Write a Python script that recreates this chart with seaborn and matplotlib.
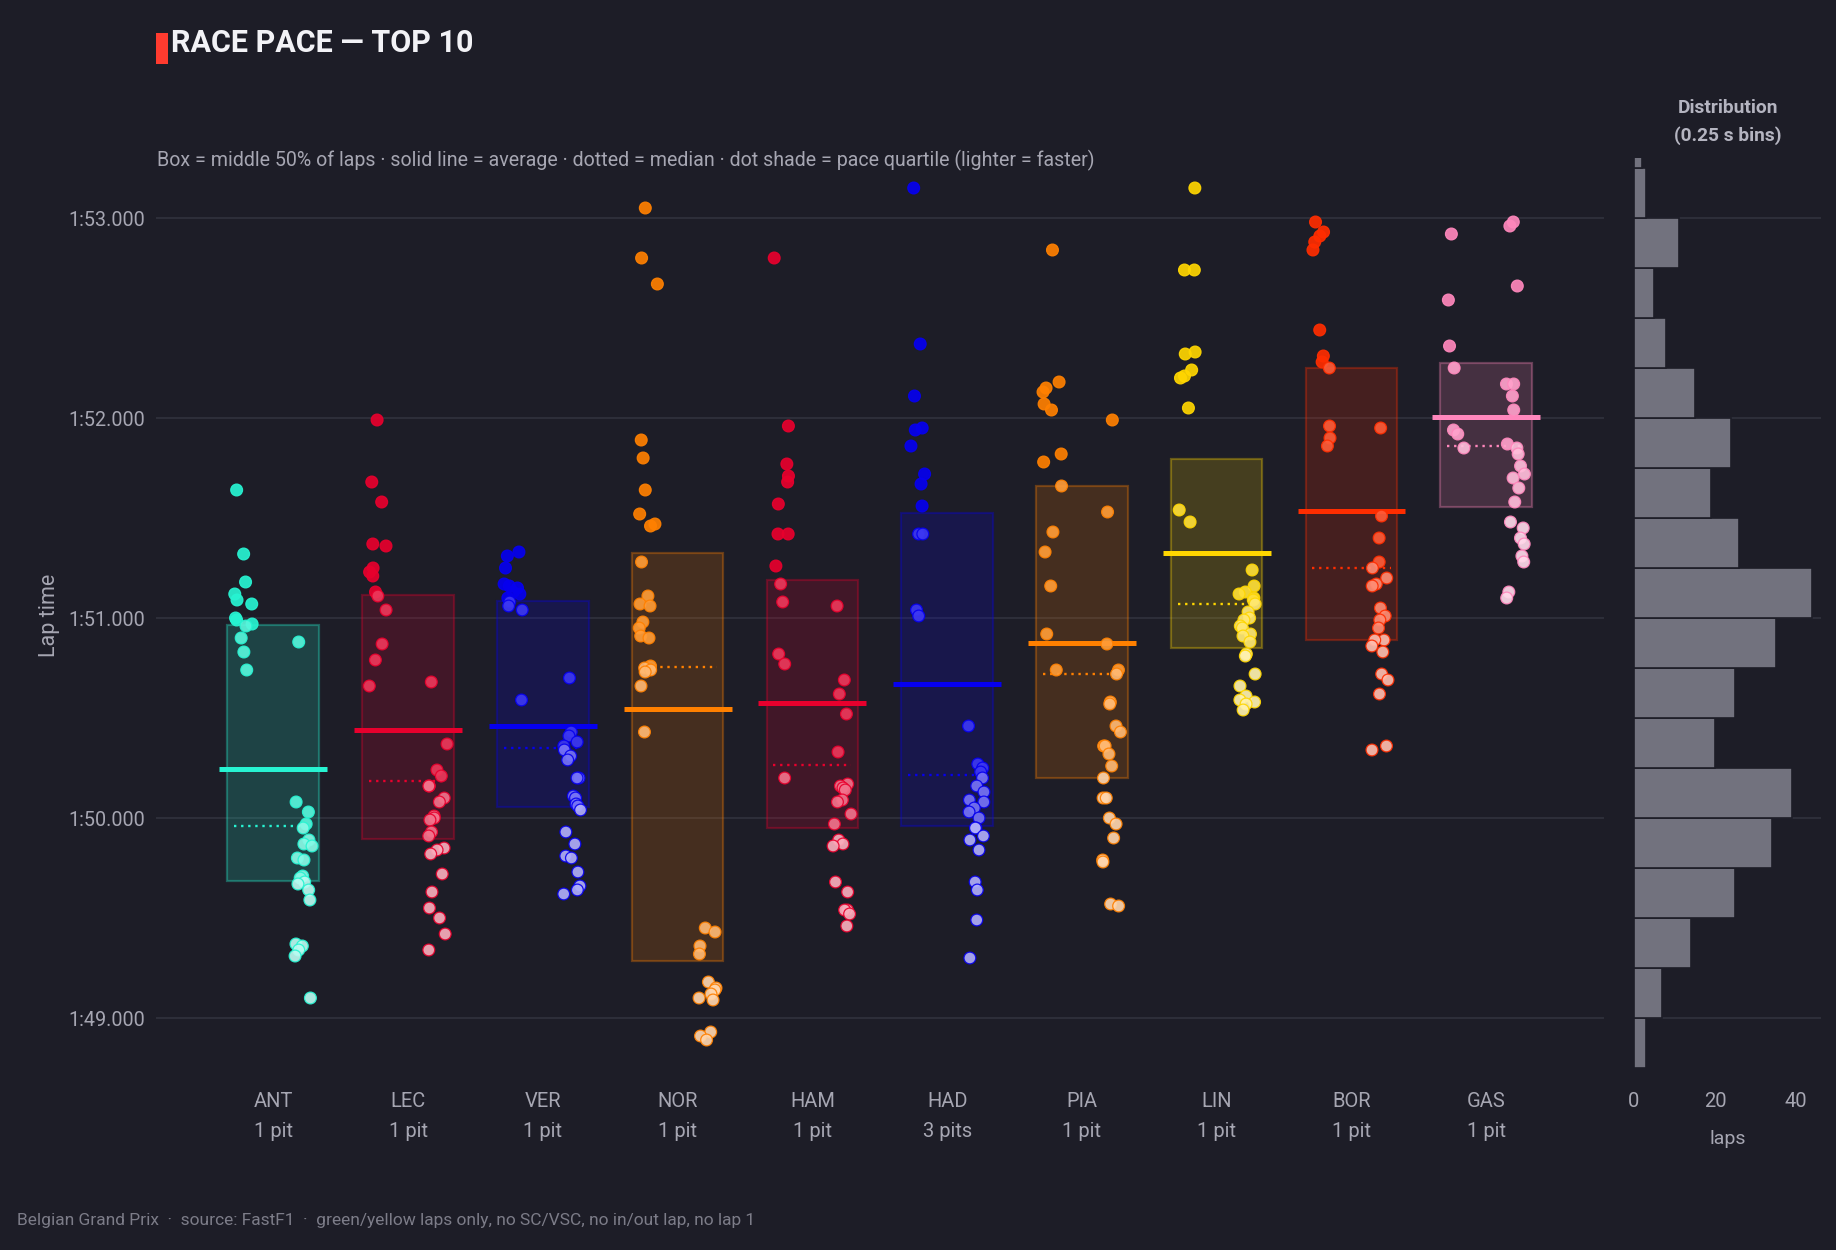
import numpy as np
import pandas as pd
import matplotlib.pyplot as plt
import matplotlib.colors as mcolors
from matplotlib.patches import Rectangle
import seaborn as sns


drivers = ['ANT', 'LEC', 'VER', 'NOR', 'HAM', 'HAD', 'PIA', 'LIN', 'BOR', 'GAS']
pit_stops = [1, 1, 1, 1, 1, 3, 1, 1, 1, 1]
team_colors = ['#27F4D2', '#E8002D', '#0600EF', '#FF8000', '#E8002D',
               '#0600EF', '#FF8000', '#FFD600', '#FF2D00', '#FF87BC']

# lap times in seconds (1:50.000 = 110.0), split by stint
ant_s1 = [111.64, 111.32, 111.18, 111.12, 111.09, 111.07, 111.00, 110.99, 110.97, 110.96, 110.90, 110.83, 110.74]
ant_s2 = [110.88, 110.08, 110.03, 109.97, 109.95, 109.89, 109.87, 109.86, 109.80, 109.79, 109.71, 109.70, 109.68,
          109.67, 109.64, 109.59, 109.37, 109.36, 109.34, 109.31, 109.10]
lec_s1 = [111.99, 111.68, 111.58, 111.37, 111.36, 111.25, 111.23, 111.21, 111.13, 111.11, 111.04, 110.87, 110.79, 110.66]
lec_s2 = [110.68, 110.37, 110.24, 110.21, 110.16, 110.16, 110.10, 110.08, 110.01, 110.00, 109.99, 109.93, 109.91,
          109.85, 109.84, 109.82, 109.72, 109.63, 109.55, 109.50, 109.42, 109.34]
ver_s1 = [111.33, 111.31, 111.25, 111.17, 111.16, 111.15, 111.13, 111.12, 111.10, 111.08, 111.06, 111.04, 110.59]
ver_s2 = [110.70, 110.43, 110.41, 110.38, 110.36, 110.34, 110.31, 110.29, 110.20, 110.20, 110.11, 110.10, 110.07,
          110.06, 110.04, 109.93, 109.87, 109.81, 109.80, 109.73, 109.66, 109.64, 109.62]
nor_s1 = [113.05, 112.80, 112.67, 111.89, 111.80, 111.64, 111.52, 111.47, 111.46, 111.28, 111.11, 111.07, 111.06,
          110.98, 110.95, 110.91, 110.90, 110.76, 110.75, 110.74, 110.73, 110.66, 110.43]
nor_s2 = [109.45, 109.43, 109.36, 109.32, 109.18, 109.15, 109.14, 109.12, 109.10, 109.09, 108.93, 108.91, 108.89]
ham_s1 = [112.80, 111.96, 111.77, 111.71, 111.68, 111.57, 111.42, 111.42, 111.26, 111.17, 111.08, 110.82, 110.77, 110.20]
ham_s2 = [111.06, 110.69, 110.62, 110.52, 110.33, 110.17, 110.16, 110.15, 110.14, 110.09, 110.08, 110.02, 109.97,
          109.89, 109.87, 109.86, 109.68, 109.63, 109.54, 109.54, 109.52, 109.46]
had_s1 = [113.15, 112.37, 112.11, 111.95, 111.94, 111.86, 111.72, 111.67, 111.56, 111.42, 111.42, 111.04, 111.01]
had_s2 = [110.46, 110.27, 110.25, 110.23, 110.20, 110.16, 110.13, 110.09, 110.08, 110.05, 110.03, 110.00, 109.95,
          109.95, 109.91, 109.89, 109.84, 109.68, 109.64, 109.49, 109.30]
pia_s1 = [112.84, 112.18, 112.15, 112.13, 112.07, 112.04, 111.82, 111.78, 111.66, 111.43, 111.33, 111.16, 110.92, 110.74]
pia_s2 = [111.99, 111.53, 110.87, 110.74, 110.72, 110.58, 110.57, 110.46, 110.43, 110.36, 110.36, 110.32, 110.26,
          110.20, 110.10, 110.10, 110.00, 109.97, 109.90, 109.79, 109.78, 109.57, 109.56]
lin_s1 = [113.15, 112.74, 112.74, 112.33, 112.32, 112.24, 112.21, 112.20, 112.05, 111.54, 111.48]
lin_s2 = [111.24, 111.16, 111.13, 111.12, 111.10, 111.09, 111.07, 111.03, 111.00, 110.99, 110.96, 110.95, 110.92,
          110.91, 110.88, 110.82, 110.81, 110.72, 110.66, 110.61, 110.59, 110.58, 110.57, 110.54]
bor_s1 = [112.98, 112.93, 112.91, 112.88, 112.84, 112.44, 112.31, 112.28, 112.25, 111.96, 111.90, 111.86]
bor_s2 = [111.95, 111.51, 111.40, 111.28, 111.25, 111.20, 111.17, 111.16, 111.05, 111.01, 110.99, 110.95, 110.89,
          110.89, 110.86, 110.83, 110.72, 110.69, 110.62, 110.36, 110.34]
# the two slowest GAS laps sit above the visible range (they only show in the histogram)
gas_s1 = [113.46, 113.38, 112.92, 112.59, 112.36, 112.25, 111.94, 111.92, 111.85]
gas_s2 = [112.98, 112.96, 112.66, 112.17, 112.17, 112.11, 112.04, 111.87, 111.85, 111.82, 111.76, 111.72, 111.70,
          111.65, 111.58, 111.48, 111.45, 111.40, 111.37, 111.31, 111.28, 111.13, 111.10]

# all laps histogram, 0.25 s bins starting at 1:48.750
hist_start = 108.75
hist_counts = [3, 7, 14, 25, 34, 39, 20, 25, 35, 44, 26, 19, 24, 15, 8, 5, 11, 3, 2]

stints = {
    'ANT': (ant_s1, ant_s2), 'LEC': (lec_s1, lec_s2), 'VER': (ver_s1, ver_s2),
    'NOR': (nor_s1, nor_s2), 'HAM': (ham_s1, ham_s2), 'HAD': (had_s1, had_s2),
    'PIA': (pia_s1, pia_s2), 'LIN': (lin_s1, lin_s2), 'BOR': (bor_s1, bor_s2),
    'GAS': (gas_s1, gas_s2),
}

rows = []
for drv in drivers:
    for k, laps in enumerate(stints[drv]):
        for t in laps:
            rows.append({'driver': drv, 'stint': k, 'lap': t})
df = pd.DataFrame(rows)

stats = df.groupby('driver', sort=False)['lap'].agg(
    q1=lambda s: s.quantile(0.25), med='median',
    q3=lambda s: s.quantile(0.75), mean='mean')


def shade(hex_color, amount):
    rgb = np.array(mcolors.to_rgb(hex_color))
    return tuple(rgb + (1 - rgb) * amount)


shade_amounts = [0.0, 0.22, 0.45, 0.68]   # slowest quartile -> fastest quartile


def quartile_class(row):
    s = stats.loc[row['driver']]
    if row['lap'] > s['q3']:
        return 0
    if row['lap'] > s['med']:
        return 1
    if row['lap'] > s['q1']:
        return 2
    return 3


df['qcls'] = df.apply(quartile_class, axis=1)
df['key'] = df['driver'] + '_' + df['qcls'].astype(str)
code = {d: i for i, d in enumerate(drivers)}
rng = np.random.default_rng(11)
df['xpos'] = (df['driver'].map(code) + np.where(df['stint'] == 0, -0.22, 0.22)
              + rng.uniform(-0.07, 0.07, len(df)))

edges = hist_start + 0.25 * np.arange(len(hist_counts) + 1)
hist_df = pd.DataFrame({'mid': edges[:-1] + 0.125, 'count': hist_counts})


bg = '#1d1d27'
grid_c = '#2f303b'
text_c = '#a6a6b2'

sns.set_theme(style='dark')
plt.rcParams['font.family'] = ['Roboto', 'DejaVu Sans']

fig = plt.figure(figsize=(18.36, 12.5), dpi=100, facecolor=bg)
ax = fig.add_axes([0.085, 0.1456, 0.7887, 0.728])
axh = fig.add_axes([0.890, 0.1456, 0.1019, 0.728], sharey=ax)
for a in (ax, axh):
    a.set_facecolor(bg)
    for sp in a.spines.values():
        sp.set_visible(False)
    a.grid(axis='y', color=grid_c, linewidth=1.3)
    a.grid(axis='x', visible=False)
    a.set_axisbelow(True)

for i, drv in enumerate(drivers):
    base = team_colors[i]
    s = stats.loc[drv]
    ax.bar(i, s['q3'] - s['q1'], bottom=s['q1'], width=0.68,
           facecolor=mcolors.to_rgba(base, 0.18), edgecolor=mcolors.to_rgba(base, 0.32),
           linewidth=1.6, zorder=1)
    ax.hlines(s['mean'], i - 0.4, i + 0.4, color=base, linewidth=3.6, zorder=2)
    ax.hlines(s['med'], i - 0.29, i + 0.29, color=base, linewidth=1.7,
              linestyle=(0, (1, 2)), zorder=2)
    sub = df[df['driver'] == drv]
    pal = {f'{drv}_{k}': shade(base, a) for k, a in enumerate(shade_amounts)}
    sns.scatterplot(data=sub, x='xpos', y='lap', hue='key', palette=pal, legend=False,
                    s=72, alpha=0.92, edgecolor=base, linewidth=0.9, ax=ax, zorder=3)

ax.set_xlim(-0.87, 9.875)
ax.set_ylim(108.75, 113.3)
ax.set_yticks([109, 110, 111, 112, 113])
ax.set_yticklabels([f'{int(v // 60)}:{v % 60:06.3f}' for v in [109, 110, 111, 112, 113]])
ax.set_xticks(range(len(drivers)))
ax.set_xticklabels([f'{d}\n{p} pit' + ('s' if p > 1 else '') for d, p in zip(drivers, pit_stops)],
                   linespacing=1.75)
ax.tick_params(axis='x', length=0, pad=17, labelsize=14.5, colors=text_c)
ax.tick_params(axis='y', length=0, pad=8, labelsize=14.2, colors=text_c)
ax.set_xlabel('')
ax.set_ylabel('')

sns.histplot(data=hist_df, y='mid', weights='count', binwidth=0.25,
             binrange=(edges[0], edges[-1]), ax=axh, color='#72727e',
             edgecolor=bg, linewidth=1.2, alpha=1)
axh.set_xlim(0, 46.2)
axh.set_xticks([0, 20, 40])
axh.tick_params(axis='x', length=0, pad=17, labelsize=14.5, colors=text_c)
axh.tick_params(axis='y', length=0, labelleft=False)
axh.set_ylabel('')
axh.set_xlabel('laps', fontsize=14, color=text_c, labelpad=14)
axh.set_title('Distribution\n(0.25 s bins)', fontsize=13.8, fontweight='bold',
              color='#b4b4c0', pad=12, linespacing=1.65)

fig.text(50 / 1836, 0.508, 'Lap time', rotation=90, ha='center', va='center',
         fontsize=15.5, color=text_c)
fig.patches.append(Rectangle((0.085, 0.9488), 0.0065, 0.0248, transform=fig.transFigure,
                             facecolor='#ff3b2f', edgecolor='none'))
fig.text(0.0931, 0.966, 'RACE PACE — TOP 10', ha='left', va='center',
         fontsize=22, fontweight='bold', color='#f2f2f6')
fig.text(0.0855, 0.872,
         'Box = middle 50% of laps · solid line = average · dotted = median · '
         'dot shade = pace quartile (lighter = faster)',
         ha='left', va='center', fontsize=14.1, color=text_c)
fig.text(0.009, 0.0232,
         'Belgian Grand Prix  ·  source: FastF1  ·  green/yellow laps only, no SC/VSC, no in/out lap, no lap 1',
         ha='left', va='center', fontsize=12.5, color='#7c7c88')

fig.savefig('out.png', dpi=100, facecolor=bg)
